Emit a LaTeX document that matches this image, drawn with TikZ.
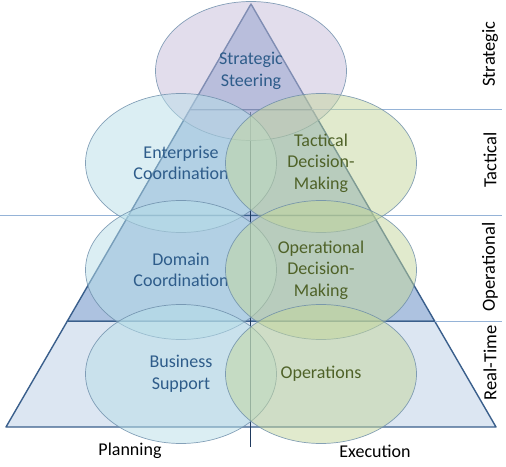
\documentclass[tikz,border=0pt]{standalone}
\usepackage{fontspec}
\setmainfont{Carlito}
\usetikzlibrary{positioning, calc, shapes.geometric}

\definecolor{edgeblue}{HTML}{3A5F8C}
\definecolor{tierup}{HTML}{ADC2E0}
\definecolor{tierlow}{HTML}{DCE6F2}
\definecolor{guide}{HTML}{95B3D7}
\definecolor{axisnavy}{HTML}{1F3A5F}
\definecolor{bubblue}{HTML}{B7DEE8}
\definecolor{bubgreen}{HTML}{C3D69B}
\definecolor{bubpurple}{HTML}{C6BCDA}
\definecolor{bubline}{HTML}{6A8BA8}
\definecolor{txtblue}{HTML}{2E5C8A}
\definecolor{txtgreen}{HTML}{4F6228}

\begin{document}
\begin{tikzpicture}[
    x=1pt, y=-1pt,
    tier/.style={draw=edgeblue, line width=1.4pt, line join=round},
    guideline/.style={draw=guide, line width=0.7pt},
    axisline/.style={draw=axisnavy, line width=1pt},
    bubble/.style={ellipse, draw=bubline, line width=0.7pt, minimum width=191pt,
                   minimum height=139pt, inner sep=0pt, align=center,
                   fill opacity=0.5, draw opacity=0.8, text opacity=1,
                   font=\fontsize{18}{21.5}\selectfont},
    sidelbl/.style={rotate=90, font=\fontsize{18.5}{20}\selectfont},
    footlbl/.style={font=\fontsize{18}{21}\selectfont}
]
\useasboundingbox (0,0) rectangle (506,466);

% pyramid
\coordinate (apex) at (251,4);
\coordinate (bl) at (6,427);
\coordinate (br) at (496,427);
\foreach \a/\b/\c in {0/0.25/tierup, 0.25/0.5/tierup, 0.5/0.75/tierup, 0.75/1/tierlow}
  \filldraw[tier, fill=\c] ($(apex)!\a!(bl)$) -- ($(apex)!\b!(bl)$)
      -- ($(apex)!\b!(br)$) -- ($(apex)!\a!(br)$) -- cycle;

% level guides
\coordinate (l2) at ($(apex)!0.5!(bl)$);
\coordinate (r1) at ($(apex)!0.25!(br)$);
\coordinate (r2) at ($(apex)!0.5!(br)$);
\coordinate (r3) at ($(apex)!0.75!(br)$);
\coordinate (lft) at (0,0);
\coordinate (rgt) at (502,0);
\draw[guideline] (r1) -- (r1 -| rgt);
\draw[guideline] (l2 -| lft) -- (l2);
\draw[guideline] (r2) -- (r2 -| rgt);
\draw[guideline] (r3) -- (r3 -| rgt);

% planning / execution split
\coordinate (axtop) at (250,112);
\coordinate (axbot) at (250,447);
\draw[axisline] (axtop) -- (axbot);

\node[bubble, fill=bubpurple, text=txtblue] (steer) at (251,71) {Strategic\\Steering};
\node[bubble, fill=bubblue, text=txtblue] (enterprise) at (181,163) {Enterprise\\Coordination};
\node[bubble, fill=bubgreen, text=txtgreen] (tactdec) at (321,163) {Tactical\\Decision-\\Making};
\node[bubble, fill=bubblue, text=txtblue] (domain) at (181,270) {Domain\\Coordination};
\node[bubble, fill=bubgreen, text=txtgreen] (opdec) at (321,270) {Operational\\Decision-\\Making};
\node[bubble, fill=bubblue, text=txtblue] (business) at (181,374) {Business\\Support};
\node[bubble, fill=bubgreen, text=txtgreen] (ops) at (321,374) {Operations};

\node[sidelbl] (strat) at (490,54) {Strategic};
\node[sidelbl] (tact) at (490,160) {Tactical};
\node[sidelbl] (oper) at (490,267) {Operational};
\node[sidelbl] (realtime) at (490,363) {Real-Time};

\node[footlbl] (plan) at (130,451) {Planning};
\node[footlbl] (exec) at (375,451) {Execution};

\end{tikzpicture}
\end{document}
